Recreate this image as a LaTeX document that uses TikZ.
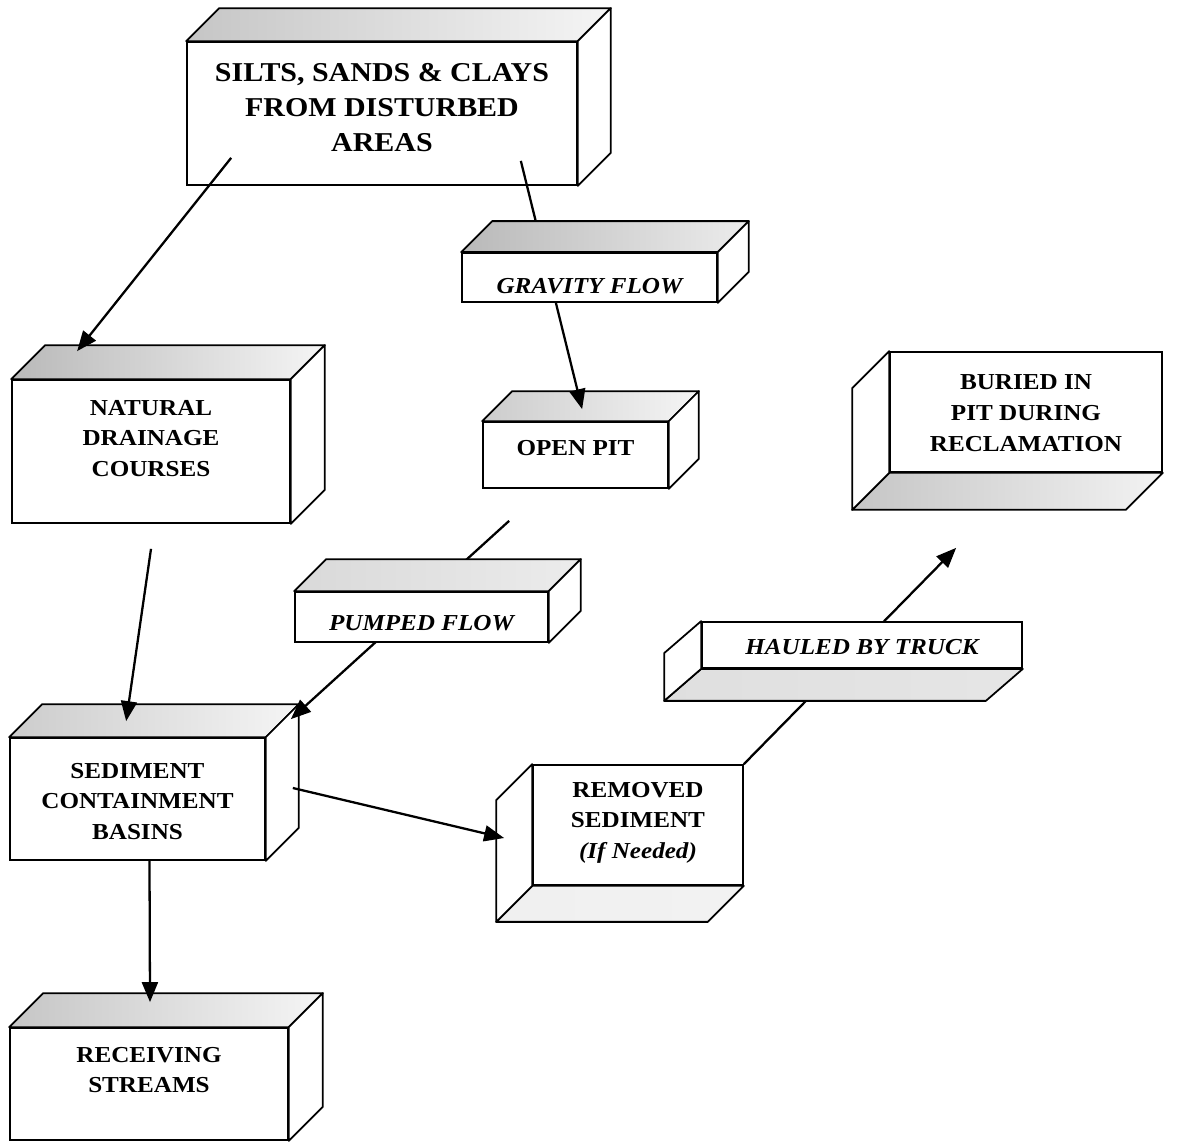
\documentclass[tikz,border=0pt]{standalone}
\usepackage{fontspec}
\setmainfont{Liberation Serif}[FakeStretch=1.1]
\usetikzlibrary{arrows.meta, calc, positioning}

\tikzset{
    cube/.style n args={3}{draw, line width=1pt, fill=white, inner sep=0pt,
        minimum width=#1, minimum height=#2,
        execute at begin node={\begin{minipage}[c][#2][t]{#1}\centering\vspace*{#3}},
        execute at end node={\end{minipage}}},
    bigtext/.style={font=\fontsize{15.5}{20}\selectfont\bfseries},
    boxtext/.style={font=\fontsize{13}{17.5}\selectfont\bfseries},
    flowtext/.style={font=\fontsize{13}{17.5}\selectfont\bfseries\itshape},
    face/.style={draw, line width=1pt, line join=round, fill=white},
    flow/.style={-{Triangle[length=4mm, width=3.2mm]}, line width=1.3pt}
}

\begin{document}
\begin{tikzpicture}[x=0.02cm, y=-0.02cm]
    \useasboundingbox (0,0) rectangle (1178,1146);

    % main boxes
    \node [cube={7.8cm}{2.86cm}{0.42cm}, bigtext] (silts) at (382,113.5) {SILTS, SANDS \& CLAYS\\FROM DISTURBED\\AREAS};
    \node [cube={5.56cm}{2.86cm}{0.4cm}, boxtext] (natural) at (151,451.5) {NATURAL\\DRAINAGE\\COURSES};
    \node [cube={3.7cm}{1.32cm}{0.36cm}, boxtext] (openpit) at (575.5,455) {OPEN PIT};
    \node [cube={5.44cm}{2.4cm}{0.46cm}, boxtext] (buried) at (1026,412) {BURIED IN\\PIT DURING\\RECLAMATION};
    \node [cube={5.1cm}{2.44cm}{0.5cm}, boxtext] (sediment) at (137.5,799) {SEDIMENT\\CONTAINMENT\\BASINS};
    \node [cube={4.2cm}{2.4cm}{0.34cm}, boxtext] (removed) at (638,825) {REMOVED\\SEDIMENT\\\textit{(If Needed)}};
    \node [cube={5.56cm}{2.24cm}{0.38cm}, boxtext] (receiving) at (149,1084) {RECEIVING\\STREAMS};

    % top and right faces
    \foreach \n/\d/\s in {silts/33/45, natural/34/55, openpit/30/40, sediment/33/40, receiving/34/45} {
        \draw [face, left color=gray!\s, right color=gray!8] (\n.north west) -- ++(\d,-\d) -- ($(\n.north east)+(\d,-\d)$) -- (\n.north east) -- cycle;
        \draw [face] (\n.north east) -- ++(\d,-\d) -- ($(\n.south east)+(\d,-\d)$) -- (\n.south east) -- cycle;
    }
    % bottom and left faces
    \foreach \n/\d/\s in {buried/37/45, removed/36/12} {
        \draw [face, left color=gray!\s, right color=gray!10] (\n.south west) -- (\n.south east) -- ++(-\d,\d) -- ($(\n.south west)+(-\d,\d)$) -- cycle;
        \draw [face] (\n.north west) -- ++(-\d,\d) -- ($(\n.south west)+(-\d,\d)$) -- (\n.south west) -- cycle;
    }

    % connectors
    \draw [flow] ($(silts.south west)+(45,-28)$) -- ($(natural.north west)+(66,-28)$);
    \draw [flow] ($(silts.south east)+(-57,-25)$) -- ($(openpit.north west)+(100,-12)$);
    \draw [flow] ($(natural.south)+(0,25)$) -- ($(sediment.north west)+(117,-16)$);
    \draw [flow] ($(openpit.south west)+(27,32)$) -- ($(sediment.north east)+(25,-18)$);
    \draw [flow] ($(sediment.east)+(27,-11)$) -- ($(removed.west)+(-28,13)$);
    \draw [flow] ($(sediment.south)+(12,0)$) -- ($(receiving.north)+(1,-25)$);
    \draw [flow] (removed.north east) -- ($(buried.south west)+(67,75)$);

    % flow labels
    \node [cube={5.1cm}{0.98cm}{0.5cm}, flowtext] (gravity) at (589.5,277.5) {GRAVITY FLOW};
    \node [cube={5.06cm}{1.0cm}{0.46cm}, flowtext] (pumped) at (421.5,617) {PUMPED FLOW};
    \node [cube={6.4cm}{0.92cm}{0.34cm}, flowtext] (hauled) at (862,645) {HAULED BY TRUCK};

    \foreach \n/\d/\s in {gravity/31/55, pumped/32/30} {
        \draw [face, left color=gray!\s, right color=gray!15] (\n.north west) -- ++(\d,-\d) -- ($(\n.north east)+(\d,-\d)$) -- (\n.north east) -- cycle;
        \draw [face] (\n.north east) -- ++(\d,-\d) -- ($(\n.south east)+(\d,-\d)$) -- (\n.south east) -- cycle;
    }
    \draw [face, left color=gray!25, right color=gray!20] (hauled.south west) -- (hauled.south east) -- ++(-37,32) -- ($(hauled.south west)+(-37,32)$) -- cycle;
    \draw [face] (hauled.north west) -- ++(-37,32) -- ($(hauled.south west)+(-37,32)$) -- (hauled.south west) -- cycle;
\end{tikzpicture}
\end{document}
